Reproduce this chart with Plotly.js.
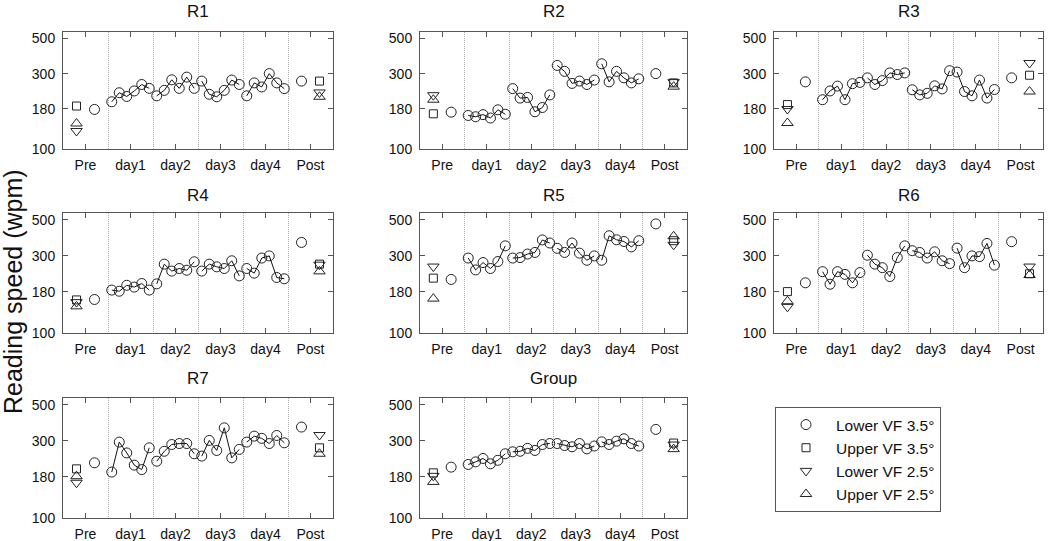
<!DOCTYPE html>
<html>
<head>
<meta charset="utf-8">
<script src="https://cdn.plot.ly/plotly-3.0.1.min.js"></script>
<style>
  html, body { margin: 0; padding: 0; background: #fff; }
  #chart { width: 1050px; height: 541px; }
</style>
</head>
<body>
<div id="chart"></div>
<script>
// ---------------- DATA ----------------
const categories = ['Pre', 'day1', 'day2', 'day3', 'day4', 'Post'];
const panelNames = ['R1', 'R2', 'R3', 'R4', 'R5', 'R6', 'R7', 'Group'];
const seriesNames = ['Lower VF 3.5°', 'Upper VF 3.5°', 'Lower VF 2.5°', 'Upper VF 2.5°'];
const yTicks = [100, 180, 300, 500];

// Training sessions (Lower VF 3.5°), 6 sessions per day, day1..day4
const trainR1 = [199, 227, 215, 233, 256, 242, 217, 235, 274, 242, 285, 242, 269, 222, 214, 235, 273, 256, 217, 262, 247, 300, 262, 241];
const trainR2 = [163, 160, 165, 157, 177, 166, 241, 210, 212, 172, 183, 220, 338, 310, 260, 269, 256, 273, 346, 266, 310, 282, 262, 278];
const trainR3 = [205, 233, 250, 205, 259, 264, 282, 256, 271, 303, 296, 303, 237, 220, 225, 251, 240, 313, 307, 231, 217, 273, 210, 238];
const trainR4 = [184, 181, 197, 192, 202, 184, 201, 266, 241, 250, 244, 275, 241, 266, 256, 250, 279, 225, 250, 234, 290, 299, 220, 216];
const trainR5 = [290, 245, 272, 250, 276, 345, 290, 292, 307, 314, 375, 359, 333, 314, 359, 311, 281, 299, 281, 398, 376, 367, 340, 371];
const trainR6 = [239, 200, 239, 230, 204, 236, 302, 266, 253, 223, 292, 345, 322, 314, 290, 317, 279, 268, 334, 253, 299, 296, 357, 262];
const trainR7 = [192, 294, 252, 212, 199, 271, 224, 258, 284, 288, 288, 249, 241, 301, 261, 360, 235, 265, 294, 320, 310, 288, 323, 291];
const trainGroup = [214, 222, 233, 216, 227, 249, 256, 258, 269, 261, 284, 288, 288, 280, 275, 288, 267, 278, 295, 284, 298, 308, 288, 278];

// Pre / Post tests, one value per panel (R1..R7, Group)
const preLower35  = [178, 171, 266, 161, 214, 204, 219, 206];
const preUpper35  = [187, 167, 191, 160, 218, 180, 201, 190];
const preLower25  = [130, 219, 179, 155, 257, 145, 165, 182];
const preUpper25  = [145, 205, 146, 146, 163, 157, 181, 167];
const postLower35 = [269, 300, 282, 362, 471, 366, 364, 352];
const postUpper35 = [269, 262, 293, 266, 371, 232, 271, 290];
const postLower25 = [228, 265, 350, 264, 350, 257, 325, 284];
const postUpper25 = [214, 248, 231, 240, 395, 228, 249, 266];

const training = [trainR1, trainR2, trainR3, trainR4, trainR5, trainR6, trainR7, trainGroup];

// ---------------- LAYOUT GEOMETRY ----------------
const W = 1050, H = 541;
const colPx = [[63, 333], [420, 687], [774, 1043]];
const rowPx = [[32, 149], [213, 333], [398, 518]];
const titleY = [11, 195, 378];
const sessionsPerDay = 6;

const font = 'Liberation Sans, Arial, Helvetica, sans-serif';
const ink = '#111';
const axisColor = '#555';

const traces = [];
const layout = {
  width: W, height: H,
  margin: { l: 0, r: 0, t: 0, b: 0 },
  paper_bgcolor: '#fff', plot_bgcolor: '#fff',
  font: { family: font, size: 14, color: ink },
  showlegend: true,
  legend: {
    x: 775 / W, y: 1 - 407 / H, xanchor: 'left', yanchor: 'top',
    bordercolor: axisColor, borderwidth: 1, bgcolor: '#fff',
    font: { family: font, size: 15.5, color: ink },
    itemwidth: 50, tracegroupgap: 0,
    traceorder: 'grouped'
  },
  annotations: [],
  shapes: []
};

const symbols = ['circle-open', 'square-open', 'triangle-down-open', 'triangle-up-open'];
const sizes = [10, 8, 10, 10];

panelNames.forEach((name, k) => {
  const r = Math.floor(k / 3), c = k % 3;
  const ax = k === 0 ? '' : String(k + 1);
  const xa = 'xaxis' + ax, ya = 'yaxis' + ax;
  layout[xa] = {
    domain: [colPx[c][0] / W, colPx[c][1] / W],
    range: [0, 6],
    anchor: 'y' + ax,
    tickmode: 'array',
    tickvals: categories.map((_, i) => i + 0.5),
    ticktext: categories,
    ticks: 'inside', ticklen: 5, tickcolor: axisColor,
    showline: true, linecolor: axisColor, linewidth: 1, mirror: 'allticks',
    showgrid: false, zeroline: false,
    ticklabelstandoff: 3,
    tickfont: { family: font, size: 14, color: ink },
    minor: {
      tickmode: 'array', tickvals: [1, 2, 3, 4, 5],
      showgrid: true, gridcolor: '#b0b0b0', griddash: '1px,1px', gridwidth: 1, ticks: ''
    },
    fixedrange: true
  };
  layout[ya] = {
    domain: [1 - rowPx[r][1] / H, 1 - rowPx[r][0] / H],
    type: 'log',
    range: [2, Math.log10(550)],
    anchor: 'x' + ax,
    tickmode: 'array',
    tickvals: yTicks,
    ticktext: yTicks.map(String),
    ticks: 'inside', ticklen: 5, tickcolor: axisColor,
    showline: true, linecolor: axisColor, linewidth: 1, mirror: 'allticks',
    showgrid: false, zeroline: false,
    ticklabelstandoff: 4,
    tickfont: { family: font, size: 14, color: ink },
    fixedrange: true
  };
  layout.annotations.push({
    text: name, xref: 'paper', yref: 'paper',
    x: (colPx[c][0] + colPx[c][1]) / 2 / W, y: 1 - titleY[r] / H,
    xanchor: 'center', yanchor: 'middle', showarrow: false,
    font: { family: font, size: 17, color: ink }
  });

  // training line segments (within each day)
  const train = training[k];
  const lx = [], ly = [], mx = [], my = [];
  for (let d = 1; d <= 4; d++) {
    for (let i = 0; i < sessionsPerDay; i++) {
      const x = d + (i + 0.5) / sessionsPerDay;
      const v = train[(d - 1) * sessionsPerDay + i];
      lx.push(x); ly.push(v); mx.push(x); my.push(v);
    }
    lx.push(null); ly.push(null);
  }
  traces.push({
    type: 'scatter', mode: 'lines', x: lx, y: ly,
    xaxis: 'x' + ax, yaxis: 'y' + ax,
    line: { color: '#111', width: 1 },
    showlegend: false, hoverinfo: 'skip', connectgaps: false
  });

  const preVals = [preLower35[k], preUpper35[k], preLower25[k], preUpper25[k]];
  const postVals = [postLower35[k], postUpper35[k], postLower25[k], postUpper25[k]];
  const preX = [0.7, 0.3, 0.3, 0.3];
  const postX = [5.3, 5.7, 5.7, 5.7];

  seriesNames.forEach((sn, s) => {
    let xs = [preX[s]], ys = [preVals[s]];
    if (s === 0) { xs = xs.concat(mx); ys = ys.concat(my); }
    xs.push(postX[s]); ys.push(postVals[s]);
    traces.push({
      type: 'scatter', mode: 'markers', x: xs, y: ys,
      xaxis: 'x' + ax, yaxis: 'y' + ax,
      name: sn, legendgroup: 'g' + s, showlegend: k === 0,
      marker: { symbol: symbols[s], size: sizes[s], color: '#222', line: { width: 1, color: '#222' } }
    });
  });
});

// y-axis shared title
layout.annotations.push({
  text: 'Reading speed (wpm)', xref: 'paper', yref: 'paper',
  x: 13 / W, y: 1 - 292 / H, xanchor: 'center', yanchor: 'middle',
  textangle: -90, showarrow: false,
  font: { family: font, size: 25, color: ink }
});

Plotly.newPlot('chart', traces, layout, { displayModeBar: false, staticPlot: true });
</script>
</body>
</html>
